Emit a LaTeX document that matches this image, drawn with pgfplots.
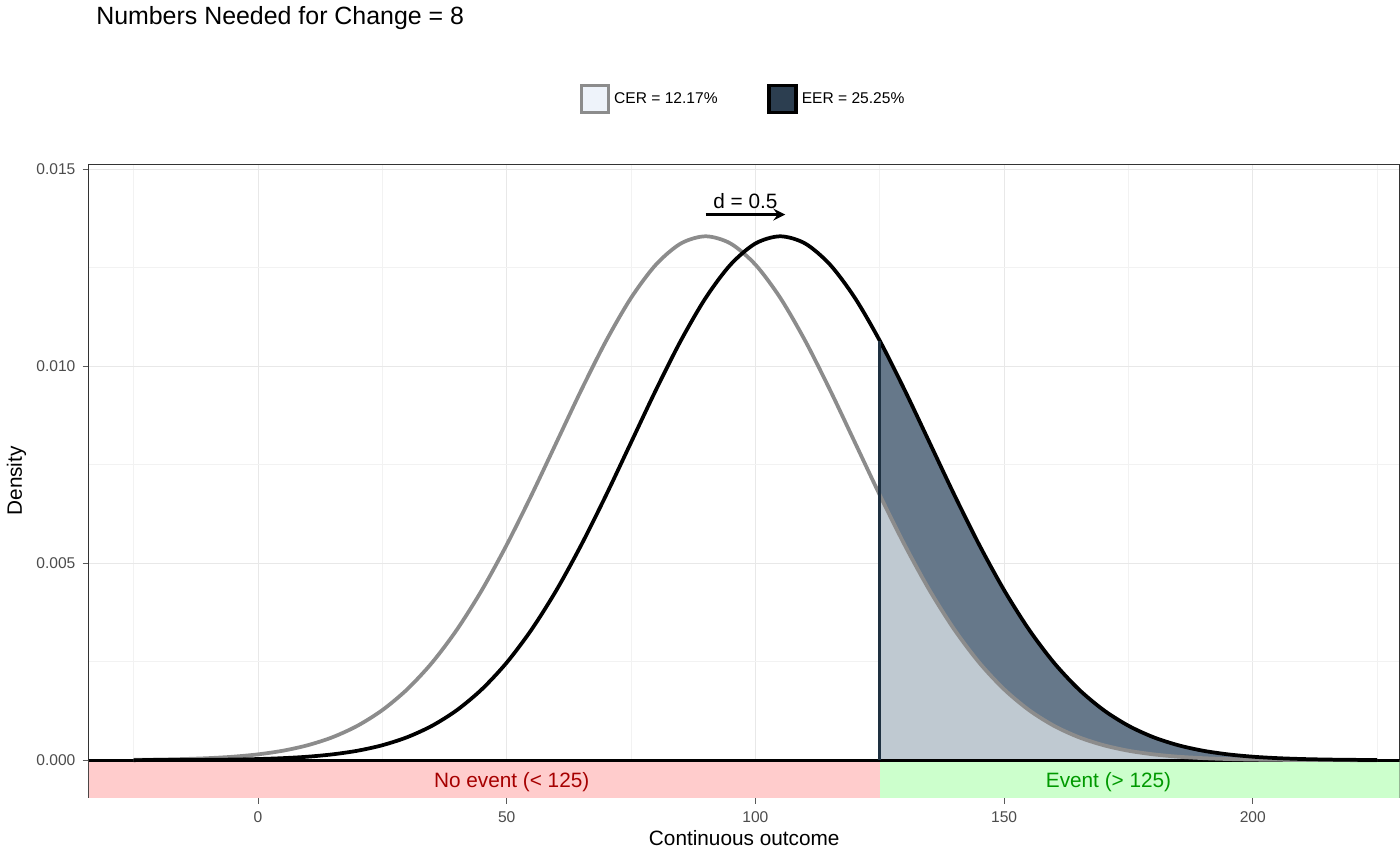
\documentclass[border=0pt]{standalone}
\usepackage{pgfplots}
\pgfplotsset{compat=1.18}
\usepackage{pgfplotstable}
\usepackage{fontspec}
\setmainfont{Liberation Sans}
\definecolor{eerfill}{HTML}{66788A}
\definecolor{cerfill}{HTML}{BFC9D1}
\definecolor{eerline}{HTML}{1E3040}
\definecolor{legdark}{HTML}{2C3E50}
\definecolor{leglight}{HTML}{EEF3FA}
\pgfplotstableread{
x y
-25 0.0000086
-20 0.0000160
-15 0.0000291
-10 0.0000515
-5 0.0000883
0 0.000148
5 0.000240
10 0.000380
15 0.000584
20 0.000874
25 0.001272
30 0.001800
35 0.002477
40 0.003316
45 0.004317
50 0.005467
55 0.006733
60 0.008066
65 0.009397
70 0.010648
75 0.011735
80 0.012579
85 0.013115
90 0.013298
95 0.013115
100 0.012579
105 0.011735
110 0.010648
115 0.009397
120 0.008066
125 0.006733
130 0.005467
135 0.004317
140 0.003316
145 0.002477
150 0.001800
155 0.001272
160 0.000874
165 0.000584
170 0.000380
175 0.000240
180 0.000148
185 0.0000883
190 0.0000515
195 0.0000291
200 0.0000160
205 0.0000086
210 0.0000045
215 0.0000023
220 0.0000011
225 0.0000005
}\cer
\pgfplotstableread{
x y
-25 0.0000011
-20 0.0000023
-15 0.0000045
-10 0.0000086
-5 0.0000160
0 0.0000291
5 0.0000515
10 0.0000883
15 0.000148
20 0.000240
25 0.000380
30 0.000584
35 0.000874
40 0.001272
45 0.001800
50 0.002477
55 0.003316
60 0.004317
65 0.005467
70 0.006733
75 0.008066
80 0.009397
85 0.010648
90 0.011735
95 0.012579
100 0.013115
105 0.013298
110 0.013115
115 0.012579
120 0.011735
125 0.010648
130 0.009397
135 0.008066
140 0.006733
145 0.005467
150 0.004317
155 0.003316
160 0.002477
165 0.001800
170 0.001272
175 0.000874
180 0.000584
185 0.000380
190 0.000240
195 0.000148
200 0.0000883
205 0.0000515
210 0.0000291
215 0.0000160
220 0.0000086
225 0.0000045
}\eer
\begin{document}
\begin{tikzpicture}
\begin{axis}[
  scale only axis, width=631pt, height=305pt,
  xmin=-34, xmax=229.5, ymin=-0.00095, ymax=0.01513,
  xtick={0,50,100,150,200}, minor xtick={-25,25,75,125,175,225},
  ytick={0,0.005,0.010,0.015}, minor ytick={0.0025,0.0075,0.0125},
  xtick pos=bottom, ytick pos=left,
  scaled y ticks=false,
  yticklabel style={/pgf/number format/.cd,fixed,fixed zerofill,precision=3},
  /pgf/number format/assume math mode=true,
  grid=both, major grid style={gray!18, line width=0.5pt}, minor grid style={gray!10, line width=0.3pt},
  tick align=outside, major tick length=3pt, minor tick length=0pt,
  tick style={gray!70!black, line width=0.5pt},
  ticklabel style={font=\fontsize{7.5}{9}\selectfont, text=black!70},
  axis line style={black!80, line width=0.5pt},
  xlabel={Continuous outcome}, ylabel={Density},
  label style={font=\fontsize{10}{12}\selectfont},
  xlabel style={yshift=3pt}, ylabel style={yshift=-2pt},
  title={Numbers Needed for Change = 8},
  title style={at={(0,1)}, anchor=base west, yshift=61pt, font=\fontsize{12}{14}\selectfont},
  legend columns=2,
  legend style={draw=none, fill=none, at={(0.5,1.0)}, anchor=south, yshift=22pt,
    font=\fontsize{7.5}{9}\selectfont, /tikz/every even column/.append style={column sep=22pt}},
  legend image code/.code={\draw[#1] (0pt,-6pt) rectangle (13pt,7pt);},
  clip=true,
]
\addlegendimage{fill=leglight, draw=gray!90, line width=1.5pt}
\addlegendentry{CER = 12.17\%}
\addlegendimage{fill=legdark, draw=black, line width=1.5pt}
\addlegendentry{EER = 25.25\%}
\addplot[fill=red!20, draw=none, forget plot] coordinates {(-40,-0.00095) (125,-0.00095) (125,0) (-40,0)} -- cycle;
\addplot[fill=green!20, draw=none, forget plot] coordinates {(125,-0.00095) (240,-0.00095) (240,0) (125,0)} -- cycle;
\addplot[fill=eerfill, draw=none, smooth, forget plot, restrict x to domain=125:230] table {\eer} \closedcycle;
\addplot[fill=cerfill, draw=none, smooth, forget plot, restrict x to domain=125:230] table {\cer} \closedcycle;
\addplot[black, line width=1.5pt, forget plot] coordinates {(-40,0) (240,0)};
\addplot[gray!90, line width=1.8pt, smooth, forget plot] table {\cer};
\addplot[black, line width=1.8pt, smooth, forget plot] table {\eer};
\addplot[eerline, line width=1.6pt, forget plot] coordinates {(125,0) (125,0.010648)};
\draw[-stealth, line width=1.5pt] (axis cs:90,0.01385) -- (axis cs:106,0.01385);
\node[font=\fontsize{10}{12}\selectfont, anchor=south] at (axis cs:98,0.0138) {d = 0.5};
\node[font=\fontsize{10}{12}\selectfont, text=red!65!black] at (axis cs:51,-0.00055) {No event (< 125)};
\node[font=\fontsize{10}{12}\selectfont, text=green!60!black] at (axis cs:171,-0.00055) {Event (> 125)};
\end{axis}
\end{tikzpicture}
\end{document}
